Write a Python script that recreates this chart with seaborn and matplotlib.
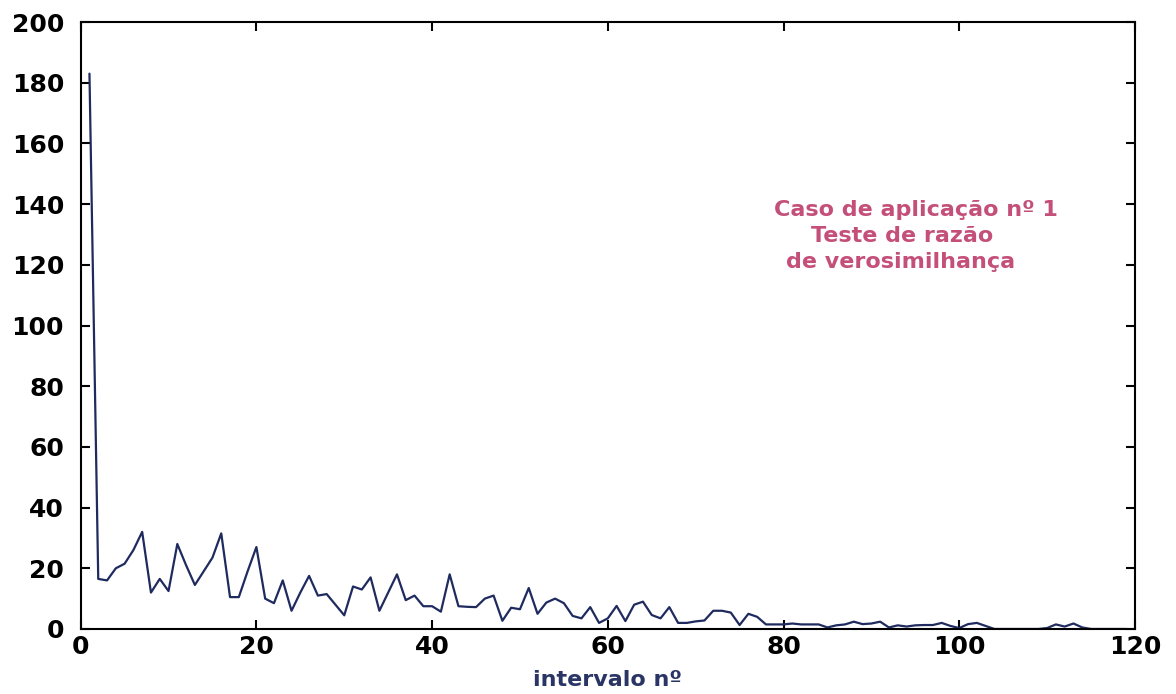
import numpy as np
import pandas as pd
import matplotlib
matplotlib.use("Agg")
import matplotlib.pyplot as plt
import seaborn as sns

# ---- data ----
intervalo = list(range(1, 120))
valores = [
    183, 16.5, 16, 20, 21.5, 26, 32, 12, 16.5, 12.5,      # 1-10
    28, 21, 14.5, 19, 23.5, 31.5, 10.5, 10.5, 19, 27,     # 11-20
    10, 8.5, 16, 6, 12, 17.5, 11, 11.5, 8, 4.5,           # 21-30
    14, 13, 17, 6, 12, 18, 9.5, 11, 7.5, 7.5,             # 31-40
    5.7, 18, 7.5, 7.3, 7.2, 10, 11, 2.7, 7, 6.5,          # 41-50
    13.5, 5, 8.7, 10, 8.5, 4.3, 3.5, 7.2, 2, 3.5,         # 51-60
    7.6, 2.6, 8, 9, 4.6, 3.5, 7.2, 2, 2, 2.5,             # 61-70
    2.8, 6, 6, 5.4, 1.3, 5, 4, 1.5, 1.5, 1.5,             # 71-80
    1.8, 1.5, 1.5, 1.5, 0.5, 1.2, 1.5, 2.4, 1.6, 1.8,     # 81-90
    2.4, 0.5, 1.2, 0.8, 1.2, 1.3, 1.3, 2, 1, 0.3,         # 91-100
    1.6, 2, 1, 0, 0, 0, 0, 0, 0, 0.3,                     # 101-110
    1.5, 0.8, 1.8, 0.5, 0, 0, 0, 0, 0,                    # 111-119
]
x_ticks = [0, 20, 40, 60, 80, 100, 120]
y_ticks = [0, 20, 40, 60, 80, 100, 120, 140, 160, 180, 200]
anotacao = ["Caso de aplicação nº 1", "Teste de razão", "de verosimilhança"]
x_label = "intervalo nº"

df = pd.DataFrame({"intervalo": intervalo, "valor": valores})

sns.set_theme(style="white")
plt.rcParams["font.family"] = ["DejaVu Sans"]

fig = plt.figure(figsize=(11.76, 6.94), dpi=100)
ax = fig.add_axes([0.0686, 0.0937, 0.8965, 0.8745])

line_color = "#1f2b5e"
sns.lineplot(data=df, x="intervalo", y="valor", ax=ax, color=line_color,
             linewidth=1.6, estimator=None)

ax.set_xlim(0, 120)
ax.set_ylim(0, 200)
ax.set_xticks(x_ticks)
ax.set_yticks(y_ticks)
ax.set_xticklabels([str(t) for t in x_ticks], fontsize=18, fontweight="bold", color="black")
ax.set_yticklabels([str(t) for t in y_ticks], fontsize=18, fontweight="bold", color="black")

ax.tick_params(axis="both", which="both", direction="in", length=6.5, width=1.5,
               color="black", top=True, right=True, bottom=True, left=True)
ax.tick_params(axis="y", pad=12)
ax.tick_params(axis="x", pad=4)

for s in ax.spines.values():
    s.set_visible(True)
    s.set_color("black")
    s.set_linewidth(1.5)

ax.set_xlabel(x_label, fontsize=16, fontweight="bold", color="#2a3566", labelpad=8)
ax.set_ylabel("")

txt_color = "#c4507a"
ax.text(95.1, 138, anotacao[0], fontsize=16, fontweight="bold", color=txt_color, ha="center", va="center")
ax.text(93.5, 129.5, anotacao[1], fontsize=16, fontweight="bold", color=txt_color, ha="center", va="center")
ax.text(93.3, 121, anotacao[2], fontsize=16, fontweight="bold", color=txt_color, ha="center", va="center")

fig.savefig("out.png", dpi=100, facecolor="white")
